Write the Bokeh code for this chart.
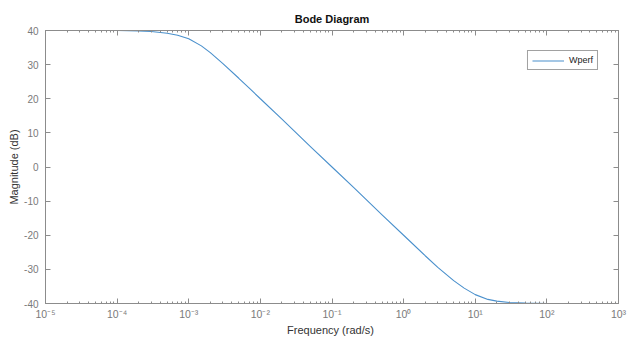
from bokeh.plotting import figure
from bokeh.models import (LogAxis, LinearAxis, FixedTicker, CustomJSTickFormatter,
                          Range1d, Legend, LegendItem, ColumnDataSource)
from bokeh.embed import file_html
from bokeh.resources import INLINE

# ---- data ----
freq = [1e-5, 1e-4, 2e-4, 3e-4, 5e-4, 7e-4, 1e-3, 1.5e-3, 2e-3, 3e-3, 5e-3, 7e-3,
        1e-2, 2e-2, 5e-2, 1e-1, 2e-1, 5e-1, 1.0, 2.0, 3.0, 5.0, 7.0, 10.0,
        15.0, 20.0, 30.0, 50.0, 100.0, 1000.0]
mag_db = [40.0, 40.0, 39.9, 39.7, 39.2, 38.6, 37.6, 35.5, 33.5, 30.3, 26.0, 23.1,
          20.0, 14.0, 6.0, 0.0, -6.0, -14.0, -20.0, -26.0, -29.4, -33.3, -35.5, -37.4,
          -38.8, -39.3, -39.7, -39.9, -40.0, -40.0]
x_ticks = [1e-5, 1e-4, 1e-3, 1e-2, 1e-1, 1e0, 1e1, 1e2, 1e3]
x_tick_labels = ["10⁻⁵", "10⁻⁴", "10⁻³", "10⁻²", "10⁻¹", "10⁰", "10¹", "10²", "10³"]
y_ticks = [-40, -30, -20, -10, 0, 10, 20, 30, 40]
y_tick_labels = ["-40", "-30", "-20", "-10", "0", "10", "20", "30", "40"]
series_name = "Wperf"

FONT = "Liberation Sans"
AX = "#8c8c8c"
LBL = "#7a7a7a"

minor = [m * 10.0 ** e for e in range(-5, 3) for m in range(2, 10)]

p = figure(width=629, height=339, x_axis_type="log", output_backend="svg",
           toolbar_location=None, x_range=Range1d(1e-5, 1e3), y_range=Range1d(-40, 40),
           min_border_left=45, min_border_right=11, min_border_top=30, min_border_bottom=36,
           title="Bode Diagram")
p.title.align = "center"
p.title.text_font = FONT
p.title.text_font_size = "11px"
p.title.text_font_style = "bold"
p.title.text_color = "#111111"
p.title.standoff = 12
p.title.offset = 0
p.outline_line_color = AX
p.xgrid.visible = False
p.ygrid.visible = False
p.background_fill_color = "white"
p.border_fill_color = "white"

src = ColumnDataSource(dict(f=freq, m=mag_db))
r = p.line("f", "m", source=src, line_color="#4a90cc", line_width=1.1)

def style(ax, labels=True):
    ax.axis_line_color = AX
    ax.major_tick_line_color = AX
    ax.minor_tick_line_color = AX
    ax.major_tick_in = 5
    ax.major_tick_out = 0
    ax.minor_tick_in = 2
    ax.minor_tick_out = 0
    ax.major_label_text_font = FONT
    ax.major_label_text_color = LBL
    ax.major_label_text_font_size = "10px" if labels else "0px"
    ax.major_label_standoff = 5 if labels else 0
    ax.axis_label_text_font = FONT
    ax.axis_label_text_font_size = "11px"
    ax.axis_label_text_font_style = "normal"
    ax.axis_label_text_color = "#333333"
    if not labels:
        ax.axis_label_standoff = 0

xt = FixedTicker(ticks=x_ticks, minor_ticks=minor)
xfmt = CustomJSTickFormatter(args=dict(labels=x_tick_labels), code="return labels[index];")
yt = FixedTicker(ticks=y_ticks)
yfmt = CustomJSTickFormatter(args=dict(labels=y_tick_labels), code="return labels[index];")

xa = p.xaxis[0]
xa.ticker = xt
xa.formatter = xfmt
xa.axis_label = "Frequency  (rad/s)"
style(xa)
xa.major_label_text_font_size = "10.5px"
xa.major_label_standoff = 4
xa.axis_label_standoff = 1

ya = p.yaxis[0]
ya.ticker = yt
ya.formatter = yfmt
ya.axis_label = "Magnitude (dB)"
style(ya)
ya.major_label_standoff = 7
ya.axis_label_standoff = 1

top = LogAxis(ticker=FixedTicker(ticks=x_ticks, minor_ticks=minor),
              formatter=CustomJSTickFormatter(code="return '';"))
style(top, labels=False)
p.add_layout(top, "above")

right = LinearAxis(ticker=FixedTicker(ticks=y_ticks),
                   formatter=CustomJSTickFormatter(code="return '';"))
style(right, labels=False)
p.add_layout(right, "right")

leg = Legend(items=[LegendItem(label=series_name, renderers=[r])],
             location="top_right", margin=20, padding=4, spacing=0,
             glyph_width=32, glyph_height=7, label_standoff=5,
             label_text_font=FONT, label_text_font_size="9px", label_text_color="#222222",
             border_line_color="#444444", border_line_width=1,
             background_fill_color="white", background_fill_alpha=1.0,
             label_height=7)
p.add_layout(leg)

open("out.html", "w").write(file_html(p, INLINE))
